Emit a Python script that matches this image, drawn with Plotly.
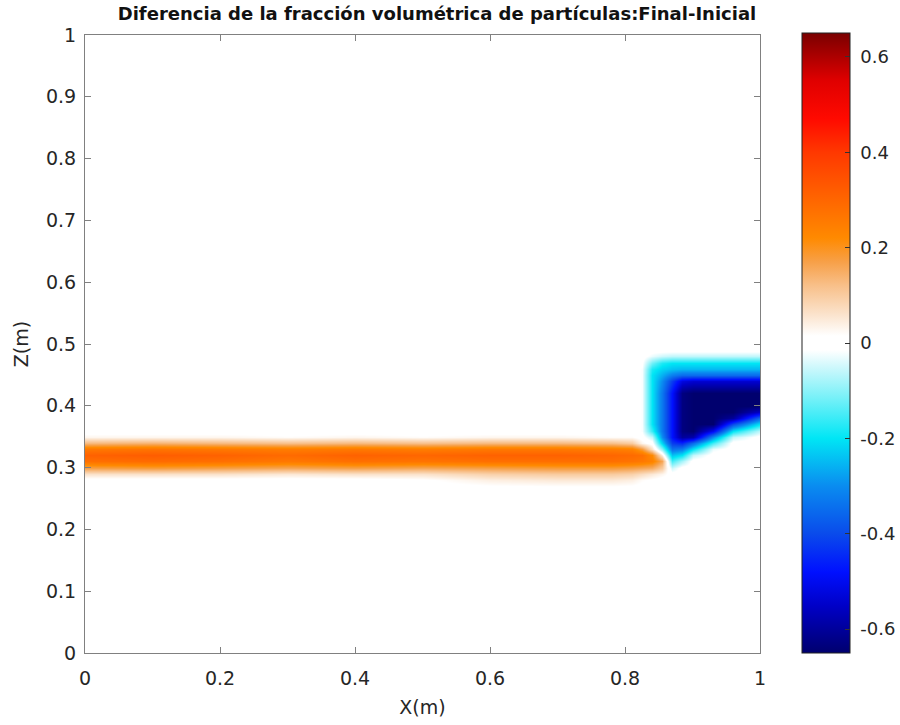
import plotly.graph_objects as go

# ---- data ----
x_nodes = [0.0, 0.1, 0.2, 0.3, 0.4, 0.5, 0.6, 0.7, 0.78, 0.81, 0.825, 0.84,
           0.855, 0.87, 0.885, 0.9, 0.93, 0.96, 1.0]
z_nodes = [0.0, 0.265, 0.28, 0.29, 0.30, 0.31, 0.32, 0.33, 0.34, 0.35, 0.36,
           0.37, 0.38, 0.39, 0.40, 0.42, 0.44, 0.45, 0.46, 0.47, 0.48, 0.49, 1.0]

_0 = [0.0] * 10
diff_rows = [
    [0.0] * 19,                                                                             # 0.0
    [0.0] * 19,                                                                             # 0.265
    [0, 0, 0, 0, 0, 0.01, 0.04, 0.05, 0.05, 0.04, 0.02, 0.01, 0, 0, 0, 0, 0, 0, 0],         # 0.28
    [0.06, 0.06, 0.06, 0.05, 0.06, 0.06, 0.09, 0.10, 0.10, 0.09, 0.07, 0.05, 0.03, 0, 0, 0, 0, 0, 0],  # 0.29
    [0.17, 0.18, 0.17, 0.16, 0.17, 0.16, 0.17, 0.18, 0.18, 0.17, 0.16, 0.15, 0.10, -0.05, 0, 0, 0, 0, 0],  # 0.30
    [0.28, 0.29, 0.28, 0.26, 0.28, 0.27, 0.28, 0.28, 0.28, 0.27, 0.26, 0.24, 0.16, -0.15, -0.08, 0, 0, 0, 0],  # 0.31
    [0.31, 0.32, 0.31, 0.29, 0.31, 0.30, 0.31, 0.31, 0.30, 0.29, 0.28, 0.22, 0.04, -0.24, -0.20, -0.06, 0, 0, 0],  # 0.32
    [0.26, 0.27, 0.26, 0.25, 0.26, 0.25, 0.26, 0.26, 0.25, 0.24, 0.18, 0.06, -0.10, -0.34, -0.32, -0.20, -0.03, 0, 0],  # 0.33
    [0.13, 0.14, 0.13, 0.12, 0.13, 0.12, 0.13, 0.13, 0.12, 0.10, 0.03, 0, -0.22, -0.42, -0.45, -0.35, -0.15, 0, 0],  # 0.34
    [0.03, 0.03, 0.03, 0.02, 0.03, 0.02, 0.03, 0.03, 0.02, 0.02, 0, -0.06, -0.30, -0.48, -0.60, -0.58, -0.30, -0.06, 0],  # 0.35
    _0 + [-0.02, -0.16, -0.33, -0.48, -0.63, -0.65, -0.50, -0.20, -0.06],                   # 0.36
    _0 + [-0.02, -0.20, -0.33, -0.48, -0.63, -0.65, -0.65, -0.40, -0.20],                   # 0.37
    _0 + [-0.02, -0.20, -0.33, -0.48, -0.63, -0.65, -0.65, -0.60, -0.35],                   # 0.38
    _0 + [-0.02, -0.20, -0.33, -0.48, -0.63, -0.65, -0.65, -0.65, -0.55],                   # 0.39
    _0 + [-0.02, -0.20, -0.33, -0.48, -0.63, -0.65, -0.65, -0.65, -0.65],                   # 0.40
    _0 + [-0.02, -0.20, -0.33, -0.48, -0.63, -0.65, -0.65, -0.65, -0.65],                   # 0.42
    _0 + [-0.02, -0.20, -0.30, -0.42, -0.52, -0.54, -0.54, -0.54, -0.54],                   # 0.44
    _0 + [-0.02, -0.20, -0.26, -0.32, -0.35, -0.35, -0.35, -0.35, -0.35],                   # 0.45
    _0 + [-0.02, -0.18, -0.22, -0.24, -0.25, -0.25, -0.25, -0.25, -0.25],                   # 0.46
    _0 + [-0.01, -0.12, -0.18, -0.20, -0.20, -0.20, -0.20, -0.20, -0.20],                   # 0.47
    _0 + [0, -0.03, -0.05, -0.06, -0.06, -0.06, -0.06, -0.06, -0.06],                       # 0.48
    [0.0] * 19,                                                                             # 0.49
    [0.0] * 19,                                                                             # 1.0
]

x_ticks = [0, 0.2, 0.4, 0.6, 0.8, 1]
x_tick_labels = ["0", "0.2", "0.4", "0.6", "0.8", "1"]
z_ticks = [0, 0.1, 0.2, 0.3, 0.4, 0.5, 0.6, 0.7, 0.8, 0.9, 1]
z_tick_labels = ["0", "0.1", "0.2", "0.3", "0.4", "0.5", "0.6", "0.7", "0.8", "0.9", "1"]
cb_ticks = [-0.6, -0.4, -0.2, 0, 0.2, 0.4, 0.6]
cb_tick_labels = ["-0.6", "-0.4", "-0.2", "0", "0.2", "0.4", "0.6"]
c_min, c_max = -0.65, 0.65

# colormap (value -> colour)
cmap_values = [-0.65, -0.55, -0.48, -0.40, -0.30, -0.20, -0.12, -0.05, -0.015,
               0.015, 0.06, 0.12, 0.17, 0.22, 0.30, 0.40, 0.47, 0.55, 0.65]
cmap_colors = ["#00006E", "#0000C8", "#0010FF", "#0A4BEB", "#0A8CF0", "#00E6F5",
               "#70F0F8", "#CFF8FC", "#FFFFFF", "#FFFFFF", "#FBE3CC", "#F8C08A",
               "#F7A048", "#FF8A00", "#FF6600", "#FF3800", "#FF0A00", "#E00000", "#7A0000"]
colorscale = [[(v - c_min) / (c_max - c_min), c] for v, c in zip(cmap_values, cmap_colors)]

TICK_FONT = dict(family="DejaVu Sans, sans-serif", size=19, color="#262626")
CB_FONT = dict(family="DejaVu Sans, sans-serif", size=18, color="#262626")
NBSP = "\u00a0"

fig = go.Figure(go.Heatmap(
    x=x_nodes, y=z_nodes, z=diff_rows,
    zsmooth="best", zmin=c_min, zmax=c_max, colorscale=colorscale,
    colorbar=dict(
        x=(802 - 85) / 675, xanchor="left", xpad=0, ypad=0,
        y=(653 - 33) / 618, yanchor="top",
        lenmode="pixels", len=620, thickness=48,
        outlinewidth=1, outlinecolor="#222222",
        tickmode="array", tickvals=cb_ticks,
        ticktext=[NBSP + t for t in cb_tick_labels],
        ticks="inside", ticklen=5, tickcolor="#333333",
        tickfont=CB_FONT,
    ),
    hoverinfo="skip",
))

axis_common = dict(
    showgrid=False, zeroline=False, showline=True, linecolor="#808080", linewidth=1,
    mirror="ticks", ticks="inside", ticklen=6, tickcolor="#808080",
    tickfont=TICK_FONT,
)
fig.update_xaxes(range=[0, 1], tickmode="array", tickvals=x_ticks, ticktext=x_tick_labels,
                 ticklabelstandoff=8,
                 title=dict(text="X(m)", font=TICK_FONT, standoff=12), **axis_common)
fig.update_yaxes(range=[0, 1], tickmode="array", tickvals=z_ticks, ticktext=z_tick_labels,
                 ticklabelstandoff=4,
                 title=dict(text="Z(m)", font=TICK_FONT, standoff=12), **axis_common)

fig.update_layout(
    width=900, height=725,
    margin=dict(l=85, r=140, t=35, b=72, pad=0, autoexpand=False),
    plot_bgcolor="white", paper_bgcolor="white",
    title=dict(text="<b>Diferencia de la fracción volumétrica de partículas:Final-Inicial</b>",
               font=dict(family="DejaVu Sans, sans-serif", size=18, color="#111111"),
               x=(437 - 85) / 675, xref="paper", xanchor="center",
               y=1 - 14 / 725, yref="container", yanchor="middle"),
)

fig.write_html("out.html")
